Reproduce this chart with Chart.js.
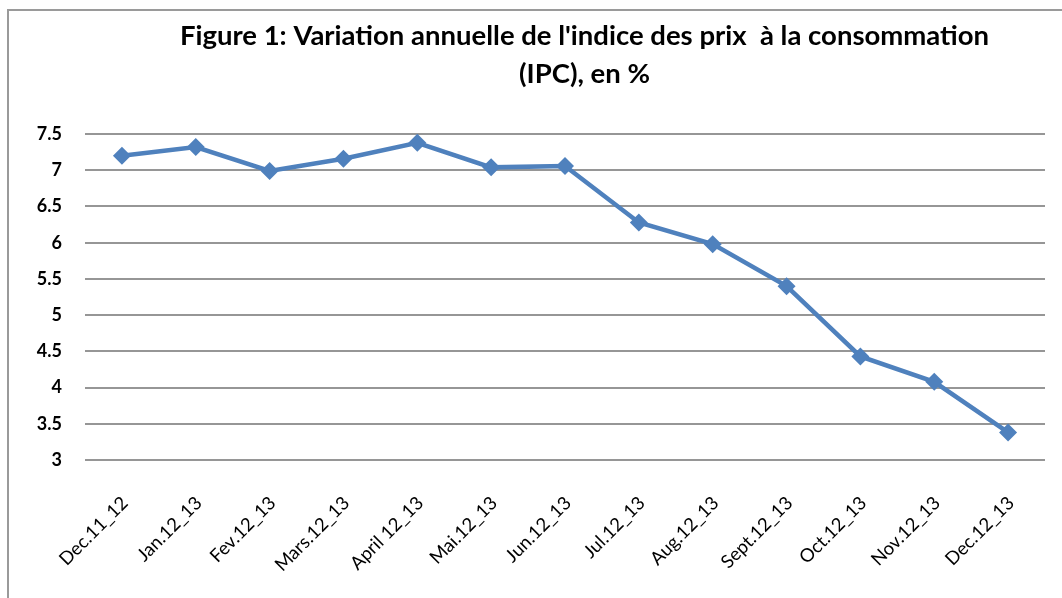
<!DOCTYPE html>
<html>
<head>
<meta charset="utf-8">
<script src="https://cdn.jsdelivr.net/npm/chart.js@4/dist/chart.umd.min.js"></script>
<style>
  html, body { margin: 0; padding: 0; background: #fff; overflow: hidden; }
  #frame { position: absolute; left: 7px; top: 9px; width: 1100px; height: 700px; border-left: 2px solid #9a9a9a; border-top: 2px solid #9a9a9a; }
  #wrap { position: absolute; left: 0; top: 0; width: 1062px; height: 598px; }
</style>
</head>
<body>
<div id="frame"></div>
<div id="wrap"><canvas id="c" width="1062" height="598"></canvas></div>
<script>
const categories = ["Dec.11_12", "Jan.12_13", "Fev.12_13", "Mars.12_13", "April 12_13", "Mai.12_13", "Jun.12_13", "Jul.12_13", "Aug.12_13", "Sept.12_13", "Oct.12_13", "Nov.12_13", "Dec.12_13"];
const ipcValues = [7.20, 7.32, 6.99, 7.16, 7.38, 7.04, 7.06, 6.28, 5.98, 5.40, 4.43, 4.08, 3.38];
const yTicks = [3, 3.5, 4, 4.5, 5, 5.5, 6, 6.5, 7, 7.5];
const titleLines = ["Figure 1: Variation annuelle de l'indice des prix  à la consommation", "(IPC), en %"];

const shiftTitle = {
  id: 'shiftTitle',
  afterLayout(chart) {
    const t = chart.titleBlock;
    if (t) { t.left += 62; t.right += 62; }
  }
};

new Chart(document.getElementById('c'), {
  type: 'line',
  data: {
    labels: categories,
    datasets: [{
      data: ipcValues,
      borderColor: '#4F81BD',
      backgroundColor: '#4F81BD',
      borderWidth: 4.5,
      pointStyle: 'rectRot',
      pointRadius: 9,
      pointBorderWidth: 0,
      pointBackgroundColor: '#4F81BD',
      tension: 0
    }]
  },
  options: {
    responsive: false,
    animation: false,
    layout: { padding: { left: 0, right: 17, top: 0, bottom: 0 } },
    plugins: {
      legend: { display: false },
      tooltip: { enabled: false },
      title: {
        display: true,
        text: titleLines,
        color: '#000',
        font: { family: 'Lato', size: 27.5, weight: 'bold', lineHeight: 1.35 },
        padding: { top: 18, bottom: 41.8 }
      }
    },
    scales: {
      x: {
        offset: true,
        grid: { display: false },
        border: { display: false },
        afterFit(scale) { scale.height = 138; },
        ticks: {
          color: '#000',
          font: { family: 'Lato', size: 18.5 },
          maxRotation: 45,
          minRotation: 45,
          padding: 24,
          labelOffset: 3,
          autoSkip: false
        }
      },
      y: {
        min: 3,
        max: 7.5,
        afterFit(scale) { scale.width = 85; },
        afterBuildTicks(scale) { scale.ticks = yTicks.map(v => ({ value: v })); },
        border: { display: false },
        grid: { color: '#969696', lineWidth: 2, drawTicks: false },
        ticks: {
          color: '#000',
          font: { family: 'Lato', size: 18, weight: 'bold' },
          padding: 23,
          callback: (v) => String(v)
        }
      }
    }
  },
  plugins: [shiftTitle]
});
</script>
</body>
</html>
